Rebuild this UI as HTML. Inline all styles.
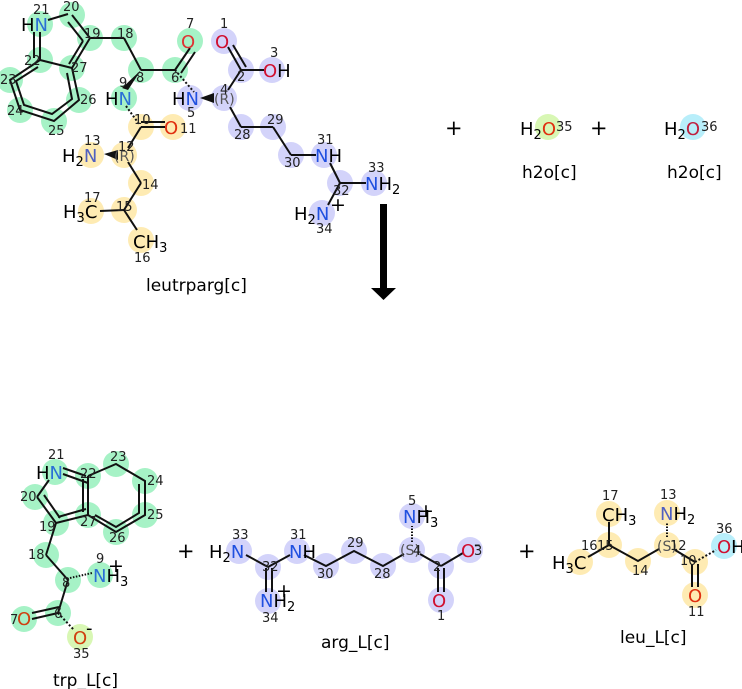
<!DOCTYPE html>
<html><head><meta charset="utf-8"><style>
html,body{margin:0;padding:0;background:#fff;width:742px;height:689px;overflow:hidden}
svg{display:block}
text{font-family:"DejaVu Sans","Liberation Sans",sans-serif}
.e{font-size:18px}
.n{font-size:13px;fill:#222}
.l{font-size:17px;fill:#000}
.g{fill:#a6f2c6}.b{fill:#d3d3fa}.y{fill:#feebb3}.lm{fill:#d8f7b4}.c{fill:#b8eefa}
line,polyline,path{stroke:#111;stroke-width:2;fill:none}
</style></head><body>
<svg width="742" height="689" viewBox="0 0 742 689">
<g class="g">
<circle cx="40" cy="24" r="13"/><circle cx="72" cy="15" r="13"/><circle cx="90" cy="38" r="13"/>
<circle cx="124" cy="38" r="13"/><circle cx="141" cy="70" r="13"/><circle cx="175" cy="70" r="13"/>
<circle cx="190" cy="41" r="13"/><circle cx="72" cy="68" r="13"/><circle cx="40" cy="60" r="13"/>
<circle cx="10" cy="80" r="13"/><circle cx="20" cy="110" r="13"/><circle cx="54" cy="121" r="13"/>
<circle cx="79" cy="100" r="13"/><circle cx="124" cy="98" r="13"/>
</g>
<g class="y">
<circle cx="141" cy="127" r="13"/><circle cx="173" cy="127" r="13"/><circle cx="124" cy="155" r="13"/>
<circle cx="91" cy="155" r="13"/><circle cx="141" cy="183" r="13"/><circle cx="124" cy="210" r="13"/>
<circle cx="91" cy="211" r="13"/><circle cx="141" cy="240" r="13"/>
</g>
<g class="b">
<circle cx="224" cy="41" r="13"/><circle cx="241" cy="70" r="13"/><circle cx="272" cy="70" r="13"/>
<circle cx="224" cy="98" r="13"/><circle cx="190" cy="98" r="13"/><circle cx="241" cy="127" r="13"/>
<circle cx="273" cy="127" r="13"/><circle cx="291" cy="155" r="13"/><circle cx="324" cy="155" r="13"/>
<circle cx="340" cy="183" r="13"/><circle cx="374" cy="183" r="13"/><circle cx="322" cy="213" r="13"/>
</g>
<line x1="48" y1="20" x2="68" y2="14"/>
<line x1="72" y1="15" x2="90" y2="38"/><line x1="68" y1="22" x2="83" y2="41"/>
<line x1="90" y1="38" x2="72" y2="68"/><line x1="83" y1="41" x2="69" y2="64"/>
<line x1="72" y1="68" x2="40" y2="60"/>
<line x1="40" y1="60" x2="40" y2="32"/><line x1="34" y1="58" x2="34" y2="32"/>
<polyline points="40,60 10,80 20,110 54,121 79,100 72,68"/>
<polyline points="38,67 16,81 24,105 52,114 72,99 67,73"/>
<line x1="90" y1="38" x2="124" y2="38"/><line x1="124" y1="38" x2="141" y2="70"/>
<line x1="141" y1="70" x2="175" y2="70"/>
<line x1="175" y1="70" x2="190" y2="48"/><line x1="181" y1="73" x2="195" y2="52"/>
<polygon points="141,70 128,90 122,88" fill="#111" stroke="none"/>
<line x1="126" y1="106" x2="139" y2="124" stroke-dasharray="2,2" stroke-width="5"/>
<line x1="141" y1="127" x2="165" y2="127"/><line x1="141" y1="122" x2="165" y2="122"/>
<line x1="141" y1="127" x2="128" y2="148"/>
<polygon points="104,154 118,150 118,160" fill="#111" stroke="none"/>
<line x1="128" y1="162" x2="141" y2="183"/><line x1="141" y1="183" x2="124" y2="210"/>
<line x1="124" y1="210" x2="100" y2="211"/><line x1="124" y1="210" x2="137" y2="230"/>
<line x1="175" y1="70" x2="194" y2="92" stroke-dasharray="2,2" stroke-width="5"/>
<polygon points="200,98 214,93 214,103" fill="#111" stroke="none"/>
<line x1="228" y1="90" x2="241" y2="70"/>
<line x1="241" y1="70" x2="228" y2="47"/><line x1="246" y1="67" x2="233" y2="45"/>
<line x1="241" y1="70" x2="264" y2="70"/>
<line x1="230" y1="107" x2="241" y2="127"/><line x1="241" y1="127" x2="273" y2="127"/>
<line x1="273" y1="127" x2="291" y2="155"/><line x1="291" y1="155" x2="316" y2="155"/>
<line x1="330" y1="163" x2="340" y2="183"/><line x1="340" y1="183" x2="366" y2="183"/>
<line x1="340" y1="183" x2="328" y2="205"/>
<g class="e">
<text x="21" y="31">H<tspan fill="#2a6fd6">N</tspan></text>
<text x="181" y="48" fill="#d33">O</text>
<text x="215" y="48" fill="#d01030">O</text>
<text x="263" y="77"><tspan fill="#d01030">O</tspan>H</text>
<text x="105" y="105">H<tspan fill="#2a6fd6">N</tspan></text>
<text x="164" y="134" fill="#e03010">O</text>
<text x="172" y="105">H<tspan fill="#2050e0">N</tspan></text>
<text x="62" y="162">H<tspan font-size="13" dy="4">2</tspan><tspan dy="-4" fill="#5060c0">N</tspan></text>
<text x="63" y="218">H<tspan font-size="13" dy="4">3</tspan><tspan dy="-4">C</tspan></text>
<text x="133" y="248">CH<tspan font-size="13" dy="4">3</tspan></text>
<text x="315" y="162"><tspan fill="#2050e0">N</tspan>H</text>
<text x="365" y="190"><tspan fill="#2050e0">N</tspan>H<tspan font-size="13" dy="4">2</tspan></text>
<text x="294" y="220">H<tspan font-size="13" dy="4">2</tspan><tspan dy="-4" fill="#2050e0">N</tspan></text>
<text x="330" y="211" font-size="19">+</text>
</g>
<text x="114" y="161" font-size="14" fill="#555">(R)</text>
<text x="214" y="104" font-size="14" fill="#555">(R)</text>
<g class="n">
<text x="33" y="14">21</text><text x="63" y="11">20</text><text x="84" y="38">19</text><text x="117" y="38">18</text>
<text x="136" y="82">8</text><text x="171" y="82">6</text><text x="186" y="28">7</text><text x="71" y="72">27</text>
<text x="24" y="65">22</text><text x="0" y="84">23</text><text x="7" y="115">24</text><text x="48" y="135">25</text>
<text x="80" y="104">26</text><text x="119" y="87">9</text><text x="134" y="124">10</text><text x="180" y="133">11</text>
<text x="118" y="151">12</text><text x="84" y="145">13</text><text x="142" y="189">14</text><text x="116" y="211">15</text>
<text x="84" y="202">17</text><text x="134" y="262">16</text>
<text x="220" y="28">1</text><text x="270" y="57">3</text><text x="237" y="81">2</text><text x="220" y="94">4</text>
<text x="187" y="117">5</text><text x="234" y="139">28</text><text x="267" y="124">29</text><text x="284" y="167">30</text>
<text x="317" y="144">31</text><text x="368" y="172">33</text><text x="333" y="195">32</text><text x="316" y="233">34</text>
</g>
<text x="146" y="291" class="l">leutrparg[c]</text>
<text x="445" y="135" font-size="21">+</text>
<text x="590" y="135" font-size="21">+</text>
<circle cx="548" cy="127" r="13" class="lm"/>
<circle cx="693" cy="127" r="13" class="c"/>
<text x="520" y="135" class="e">H<tspan font-size="13" dy="4">2</tspan><tspan dy="-4" fill="#e03010">O</tspan></text>
<text x="556" y="131" class="n">35</text>
<text x="664" y="135" class="e">H<tspan font-size="13" dy="4">2</tspan><tspan dy="-4" fill="#c02040">O</tspan></text>
<text x="701" y="131" class="n">36</text>
<text x="522" y="178" class="l">h2o[c]</text>
<text x="667" y="178" class="l">h2o[c]</text>
<rect x="380" y="204" width="7" height="86" fill="#000"/>
<polygon points="371,288 396,288 383.5,300" fill="#000"/>
<g class="g">
<circle cx="55" cy="472" r="13"/><circle cx="88" cy="476" r="13"/><circle cx="116" cy="464" r="13"/>
<circle cx="145" cy="481" r="13"/><circle cx="145" cy="515" r="13"/><circle cx="116" cy="532" r="13"/>
<circle cx="88" cy="515" r="13"/><circle cx="35" cy="497" r="13"/><circle cx="56" cy="523" r="13"/>
<circle cx="46" cy="555" r="13"/><circle cx="68" cy="580" r="13"/><circle cx="100" cy="575" r="13"/>
<circle cx="58" cy="613" r="13"/><circle cx="24" cy="619" r="13"/>
</g>
<circle cx="80" cy="637" r="13" class="lm"/>
<line x1="63" y1="474" x2="88" y2="483"/><line x1="63" y1="468" x2="86" y2="476"/>
<line x1="88" y1="476" x2="88" y2="515"/><line x1="83" y1="479" x2="83" y2="512"/>
<polyline points="88,476 116,464 145,481 145,515 116,532 88,515"/>
<polyline points="95,515 116,527 139,513 139,484"/>
<line x1="88" y1="515" x2="56" y2="523"/><line x1="86" y1="509" x2="58" y2="517"/>
<line x1="56" y1="523" x2="37" y2="497"/><line x1="44" y1="495" x2="60" y2="518"/>
<line x1="37" y1="497" x2="49" y2="480"/>
<line x1="56" y1="523" x2="46" y2="555"/><line x1="46" y1="555" x2="68" y2="580"/>
<line x1="70" y1="578" x2="92" y2="573" stroke-dasharray="1.5,1.5" stroke-width="5"/>
<line x1="68" y1="580" x2="58" y2="613"/>
<line x1="58" y1="613" x2="32" y2="619"/><line x1="59" y1="607" x2="32" y2="613"/>
<line x1="58" y1="613" x2="74" y2="630" stroke-dasharray="2,2" stroke-width="5"/>
<g class="e">
<text x="36" y="479">H<tspan fill="#2a6fd6">N</tspan></text>
<text x="93" y="582"><tspan fill="#2a6fd6">N</tspan>H<tspan font-size="13" dy="4">3</tspan></text>
<text x="108" y="572" font-size="19">+</text>
<text x="17" y="625" fill="#d04010">O</text>
<text x="73" y="644" fill="#d04010">O</text>
<text x="86" y="634">-</text>
</g>
<g class="n">
<text x="48" y="459">21</text><text x="80" y="478">22</text><text x="110" y="461">23</text><text x="147" y="485">24</text>
<text x="147" y="519">25</text><text x="109" y="542">26</text><text x="80" y="526">27</text><text x="20" y="501">20</text>
<text x="39" y="531">19</text><text x="28" y="559">18</text><text x="62" y="587">8</text><text x="96" y="563">9</text>
<text x="54" y="618">6</text><text x="10" y="624">7</text><text x="73" y="658">35</text>
</g>
<text x="53" y="686" class="l">trp_L[c]</text>
<text x="177" y="558" font-size="21">+</text>
<g class="b">
<circle cx="239" cy="551" r="13"/><circle cx="268" cy="567" r="13"/><circle cx="268" cy="601" r="13"/>
<circle cx="297" cy="551" r="13"/><circle cx="326" cy="566" r="13"/><circle cx="354" cy="551" r="13"/>
<circle cx="383" cy="566" r="13"/><circle cx="412" cy="550" r="13"/><circle cx="412" cy="516" r="13"/>
<circle cx="441" cy="566" r="13"/><circle cx="470" cy="550" r="13"/><circle cx="441" cy="600" r="13"/>
</g>
<line x1="246" y1="555" x2="268" y2="567"/><line x1="268" y1="567" x2="290" y2="555"/>
<line x1="266" y1="568" x2="266" y2="592"/><line x1="272" y1="568" x2="272" y2="592"/>
<polyline points="304,555 326,566 354,551 383,566 404,554"/>
<line x1="412" y1="542" x2="412" y2="526" stroke-dasharray="1.5,1.5" stroke-width="5"/>
<line x1="420" y1="554" x2="441" y2="566"/><line x1="441" y1="566" x2="463" y2="553"/>
<line x1="438" y1="568" x2="438" y2="592"/><line x1="444" y1="568" x2="444" y2="592"/>
<g class="e">
<text x="209" y="558">H<tspan font-size="13" dy="4">2</tspan><tspan dy="-4" fill="#2050e0">N</tspan></text>
<text x="289" y="558"><tspan fill="#2050e0">N</tspan>H</text>
<text x="260" y="607"><tspan fill="#2050e0">N</tspan>H<tspan font-size="13" dy="4">2</tspan></text>
<text x="276" y="597" font-size="19">+</text>
<text x="403" y="523"><tspan fill="#2050e0">N</tspan>H<tspan font-size="13" dy="4">3</tspan></text>
<text x="418" y="517" font-size="19">+</text>
<text x="461" y="557" fill="#d01030">O</text>
<text x="474" y="550">-</text>
<text x="432" y="607" fill="#d01030">O</text>
</g>
<text x="400" y="555" font-size="14" fill="#555">(S)</text>
<g class="n">
<text x="232" y="539">33</text><text x="262" y="571">32</text><text x="262" y="622">34</text><text x="290" y="539">31</text>
<text x="317" y="578">30</text><text x="347" y="547">29</text><text x="374" y="578">28</text><text x="413" y="555">4</text>
<text x="408" y="505">5</text><text x="433" y="571">2</text><text x="474" y="555">3</text><text x="437" y="620">1</text>
</g>
<text x="321" y="648" class="l">arg_L[c]</text>
<text x="518" y="558" font-size="21">+</text>
<g class="y">
<circle cx="609" cy="514" r="13"/><circle cx="609" cy="545" r="13"/><circle cx="580" cy="562" r="13"/>
<circle cx="638" cy="561" r="13"/><circle cx="667" cy="545" r="13"/><circle cx="667" cy="513" r="13"/>
<circle cx="695" cy="562" r="13"/><circle cx="695" cy="595" r="13"/>
</g>
<circle cx="724" cy="546" r="13" class="c"/>
<line x1="609" y1="522" x2="609" y2="545"/><line x1="609" y1="545" x2="588" y2="557"/>
<polyline points="609,545 638,561 659,549"/>
<line x1="667" y1="537" x2="667" y2="522" stroke-dasharray="1.5,1.5" stroke-width="5"/>
<line x1="675" y1="550" x2="695" y2="562"/>
<line x1="695" y1="562" x2="716" y2="550" stroke-dasharray="2,2" stroke-width="4"/>
<line x1="692" y1="564" x2="692" y2="587"/><line x1="698" y1="564" x2="698" y2="587"/>
<g class="e">
<text x="602" y="521">CH<tspan font-size="13" dy="4">3</tspan></text>
<text x="552" y="569">H<tspan font-size="13" dy="4">3</tspan><tspan dy="-4">C</tspan></text>
<text x="660" y="520"><tspan fill="#5060c0">N</tspan>H<tspan font-size="13" dy="4">2</tspan></text>
<text x="717" y="553"><tspan fill="#d01030">O</tspan>H</text>
<text x="688" y="602" fill="#e03010">O</text>
</g>
<text x="657" y="551" font-size="14" fill="#555">(S)</text>
<g class="n">
<text x="602" y="500">17</text><text x="581" y="550">16</text><text x="597" y="550">15</text><text x="632" y="575">14</text>
<text x="660" y="499">13</text><text x="670" y="550">12</text><text x="680" y="565">10</text><text x="688" y="616">11</text>
<text x="716" y="533">36</text>
</g>
<text x="620" y="643" class="l">leu_L[c]</text>
</svg>
</body></html>
